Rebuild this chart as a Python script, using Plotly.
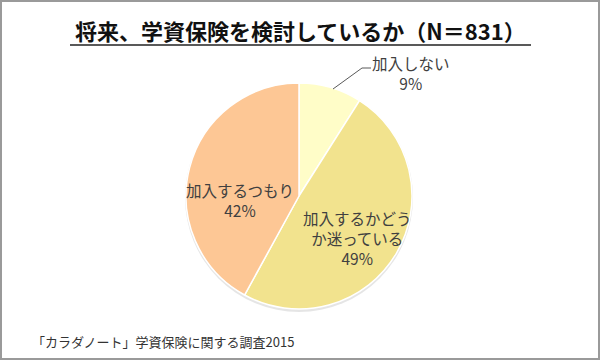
import plotly.graph_objects as go

labels = ["加入しない", "加入するかどう<br>か迷っている", "加入するつもり"]
values = [9, 49, 42]
colors = ["#FFFDC8", "#F2E38E", "#FDC795"]
title = "<b>将来、学資保険を検討しているか（N＝831）</b>"
source = "「カラダノート」学資保険に関する調査2015"

W, H = 600, 360
cx, cy, r = 299, 196, 113

fig = go.Figure(go.Pie(
    labels=labels, values=values, sort=False, direction="clockwise", rotation=0,
    marker=dict(colors=colors, line=dict(color="white", width=1.5)),
    textinfo="none", hoverinfo="label+percent", showlegend=False,
    domain=dict(x=[(cx - r) / W, (cx + r) / W], y=[(H - cy - r) / H, (H - cy + r) / H]),
))

font = "Noto Sans CJK JP"
tc = "#404040"
def ann(x, y, text, size=15.5, anchor="center", color=tc):
    fig.add_annotation(x=x / W, y=1 - y / H, xref="paper", yref="paper", text=text,
                       showarrow=False, xanchor=anchor, yanchor="middle",
                       font=dict(family=font, size=size, color=color))

ann(300, 30, title, size=22, color="#111111")
ann(411, 73, f"{labels[0]}<br>{values[0]}%")
ann(357, 238, f"{labels[1]}<br>{values[1]}%")
ann(240, 200, f"{labels[2]}<br>{values[2]}%")
ann(30, 341, source, size=13, anchor="left", color="#333333")

shapes = [
    dict(type="circle", xref="paper", yref="paper", layer="below",
         x0=(cx - r - 1) / W, x1=(cx + r + 1) / W, y0=1 - (cy + r + 3) / H, y1=1 - (cy - r) / H,
         fillcolor="rgba(0,0,0,0.10)", line=dict(width=0)),
    dict(type="line", xref="paper", yref="paper", x0=70 / W, x1=531 / W, y0=1 - 45 / H, y1=1 - 45 / H,
         line=dict(color="#222222", width=1.5)),
    dict(type="path", xref="paper", yref="paper",
         path=f"M {333/W} {1-89/H} L {362/W} {1-68/H} L {371/W} {1-68/H}",
         line=dict(color="#595959", width=1)),
    dict(type="rect", xref="paper", yref="paper", x0=1 / W, x1=1 - 1 / W, y0=1 / H, y1=1 - 1 / H,
         line=dict(color="#9A9A9A", width=2)),
]
fig.update_layout(width=W, height=H, margin=dict(l=0, r=0, t=0, b=0),
                  paper_bgcolor="white", plot_bgcolor="white", shapes=shapes)
fig.write_html("out.html", config={"displayModeBar": False},
               post_script="document.body.style.margin='0';document.body.style.overflow='hidden';")
